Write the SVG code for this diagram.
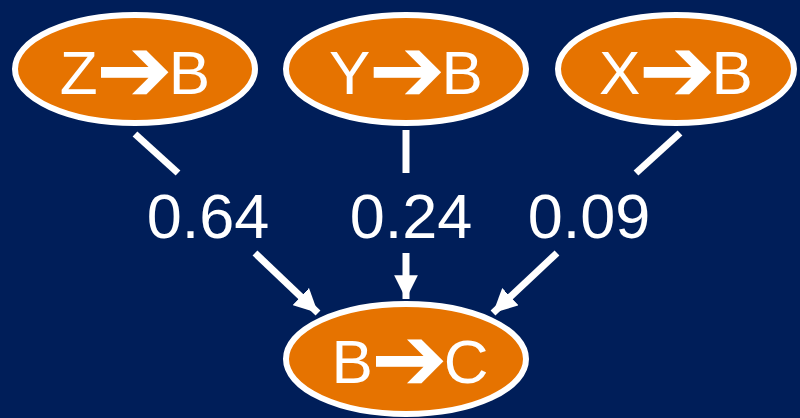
<svg xmlns="http://www.w3.org/2000/svg" width="800" height="418" viewBox="0 0 800 418">
  <style>
    .node ellipse { fill: #E67300; stroke: #FFFFFF; stroke-width: 6; }
    .node text { fill: #FFFFFF; font-family: "Liberation Sans", "DejaVu Sans", Arial, sans-serif; font-size: 62px; text-anchor: middle; }
    .node .arr { font-family: "DejaVu Sans", sans-serif; font-weight: bold; font-size: 92px; }
    .edge { stroke: #FFFFFF; stroke-width: 7; fill: none; }
    .weight { fill: #FFFFFF; font-family: "Liberation Sans", Arial, sans-serif; font-size: 63px; text-anchor: middle; }
  </style>
  <defs>
    <marker id="head" viewBox="0 0 10 10" refX="10" refY="5" markerWidth="3.4" markerHeight="3.4" markerUnits="strokeWidth" orient="auto">
      <path d="M0,0 L10,5 L0,10 z" fill="#FFFFFF"/>
    </marker>
  </defs>
  <rect width="800" height="418" fill="#001E59"/>

  <g id="connectors">
    <line class="edge" x1="135" y1="134" x2="178" y2="173"/>
    <line class="edge" x1="255" y1="253" x2="318" y2="313" marker-end="url(#head)"/>
    <line class="edge" x1="406" y1="130" x2="406" y2="173"/>
    <line class="edge" x1="406" y1="253" x2="406" y2="299" marker-end="url(#head)"/>
    <line class="edge" x1="680" y1="133" x2="636" y2="173"/>
    <line class="edge" x1="557" y1="253" x2="493" y2="313" marker-end="url(#head)"/>
  </g>

  <g id="label-zb"><text class="weight" x="208" y="238">0.64</text></g>
  <g id="label-yb"><text class="weight" x="411" y="238">0.24</text></g>
  <g id="label-xb"><text class="weight" x="589" y="238">0.09</text></g>

  <g id="node-zb" class="node">
    <ellipse cx="135" cy="69" rx="120" ry="54"/>
    <text x="135" y="94">Z<tspan class="arr" dx="-2" dy="7">➔</tspan><tspan dx="-4" dy="-7">B</tspan></text>
  </g>
  <g id="node-yb" class="node">
    <ellipse cx="406" cy="69" rx="120" ry="54"/>
    <text x="406" y="94">Y<tspan class="arr" dx="-2" dy="7">➔</tspan><tspan dx="-4" dy="-7">B</tspan></text>
  </g>
  <g id="node-xb" class="node">
    <ellipse cx="676" cy="69" rx="118" ry="54"/>
    <text x="676" y="94">X<tspan class="arr" dx="-2" dy="7">➔</tspan><tspan dx="-4" dy="-7">B</tspan></text>
  </g>
  <g id="node-bc" class="node">
    <ellipse cx="406" cy="359" rx="120" ry="55"/>
    <text x="410" y="383">B<tspan class="arr" dx="-2" dy="7">➔</tspan><tspan dx="-4" dy="-7">C</tspan></text>
  </g>
</svg>
